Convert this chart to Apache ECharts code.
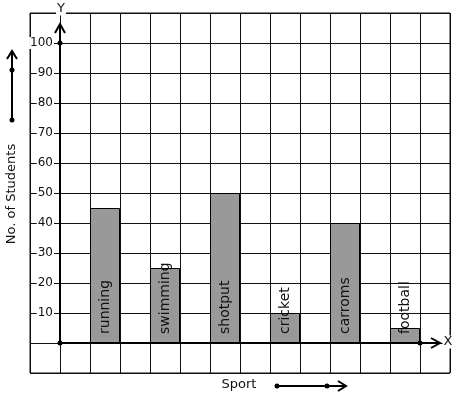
<!DOCTYPE html>
<html lang="en">
<head>
    <meta charset="UTF-8">
    <title>Sport</title>
    <script type="text/javascript" src="https://cdn.jsdelivr.net/npm/echarts@6/dist/echarts.min.js"></script>
    <style>
        html, body { margin: 0; padding: 0; background: #fff; }
    </style>
</head>
<body>
<div id="main" style="width:457px;height:399px;"></div>
</body>

<script>
    let sports = ['running', 'swimming', 'shotput', 'cricket', 'carroms', 'football'];
    let students = [45, 25, 50, 10, 40, 5];
    let slotCount = 14;
    let yTicks = [10, 20, 30, 40, 50, 60, 70, 80, 90, 100];

    // one column every other grid cell, starting in the third cell
    let slots = [];
    let barData = [];
    for (let i = 0; i < slotCount; i++) {
        slots.push('c' + i);
        barData.push(null);
    }
    sports.forEach(function (name, k) {
        barData[2 + k * 2] = {value: students[k], name: name};
    });

    const font = 'DejaVu Sans';
    let myChart = echarts.init(document.getElementById('main'));

    let option = {
        animation: false,
        backgroundColor: '#fff',
        grid: {
            left: 30, top: 13, width: 420, height: 360,
            show: true, borderColor: '#111', borderWidth: 1
        },
        xAxis: {
            type: 'category',
            data: slots,
            boundaryGap: true,
            axisLine: {show: false},
            axisTick: {show: false},
            axisLabel: {show: false},
            splitLine: {show: true, lineStyle: {color: '#111', width: 1}}
        },
        yAxis: {
            type: 'value',
            min: -10, max: 110, interval: 10,
            offset: -30,
            axisLine: {show: false},
            axisTick: {show: false},
            splitLine: {show: true, lineStyle: {color: '#111', width: 1}},
            axisLabel: {
                margin: 6,
                fontFamily: font, fontSize: 12, color: '#111',
                backgroundColor: '#fff', padding: [0, 1],
                formatter: function (v) {
                    return yTicks.indexOf(v) >= 0 ? String(v) : '';
                }
            }
        },
        series: [{
            type: 'bar',
            data: barData,
            barWidth: '100%',
            itemStyle: {color: '#999999', borderColor: '#000', borderWidth: 1},
            label: {
                show: true,
                position: 'insideBottom',
                distance: 9,
                rotate: 90,
                align: 'left',
                verticalAlign: 'middle',
                fontFamily: font, fontSize: 14, color: '#111',
                formatter: function (p) { return p.name; }
            },
            z: 3
        }]
    };
    myChart.setOption(option);

    // axes with arrows, placed through the chart's own scales
    let x0 = myChart.convertToPixel({xAxisIndex: 0}, 0) + 15;
    let y0 = myChart.convertToPixel({yAxisIndex: 0}, 0);
    let y100 = myChart.convertToPixel({yAxisIndex: 0}, 100);
    let xEnd = myChart.convertToPixel({xAxisIndex: 0}, 12) + 15;
    let yTop = y100 - 19;
    let xTip = xEnd + 20;
    let black = {stroke: '#000', lineWidth: 2, fill: null};
    let dot = function (x, y) {
        return {type: 'circle', shape: {cx: x, cy: y, r: 2.5}, style: {fill: '#000'}, z: 10};
    };
    let txt = function (x, y, s, extra, rot) {
        return {
            type: 'text', x: x, y: y, z: 10, rotation: rot || 0,
            style: Object.assign({
                text: s, fontFamily: font, fontSize: 13, fill: '#111',
                align: 'center', verticalAlign: 'middle'
            }, extra || {})
        };
    };

    myChart.setOption({
        graphic: [
            {type: 'line', shape: {x1: x0, y1: y0, x2: x0, y2: yTop}, style: black, z: 10},
            {type: 'polyline', shape: {points: [[x0 - 5, yTop + 9], [x0, yTop], [x0 + 5, yTop + 9]]}, style: black, z: 10},
            {type: 'line', shape: {x1: x0, y1: y0, x2: xTip, y2: y0}, style: black, z: 10},
            {type: 'polyline', shape: {points: [[xTip - 9, y0 - 5], [xTip, y0], [xTip - 9, y0 + 5]]}, style: black, z: 10},
            dot(x0, y0), dot(x0, y100), dot(xEnd, y0),
            txt(x0 + 1, 9, 'Y', {backgroundColor: '#fff', padding: [0, 1]}),
            txt(xTip + 8, y0 - 1, 'X', {backgroundColor: '#fff', padding: [0, 1]}),
            // left caption and its arrow
            txt(12, 194, 'No. of Students', {}, Math.PI / 2),
            {type: 'line', shape: {x1: 12, y1: 120, x2: 12, y2: 51}, style: black, z: 10},
            {type: 'polyline', shape: {points: [[7, 59], [12, 51], [17, 59]]}, style: black, z: 10},
            dot(12, 120), dot(12, 70),
            // bottom caption and its arrow
            txt(239, 385, 'Sport', {}),
            {type: 'line', shape: {x1: 277, y1: 386, x2: 346, y2: 386}, style: black, z: 10},
            {type: 'polyline', shape: {points: [[338, 381], [346, 386], [338, 391]]}, style: black, z: 10},
            dot(277, 386), dot(327, 386)
        ]
    });
</script>
</html>
